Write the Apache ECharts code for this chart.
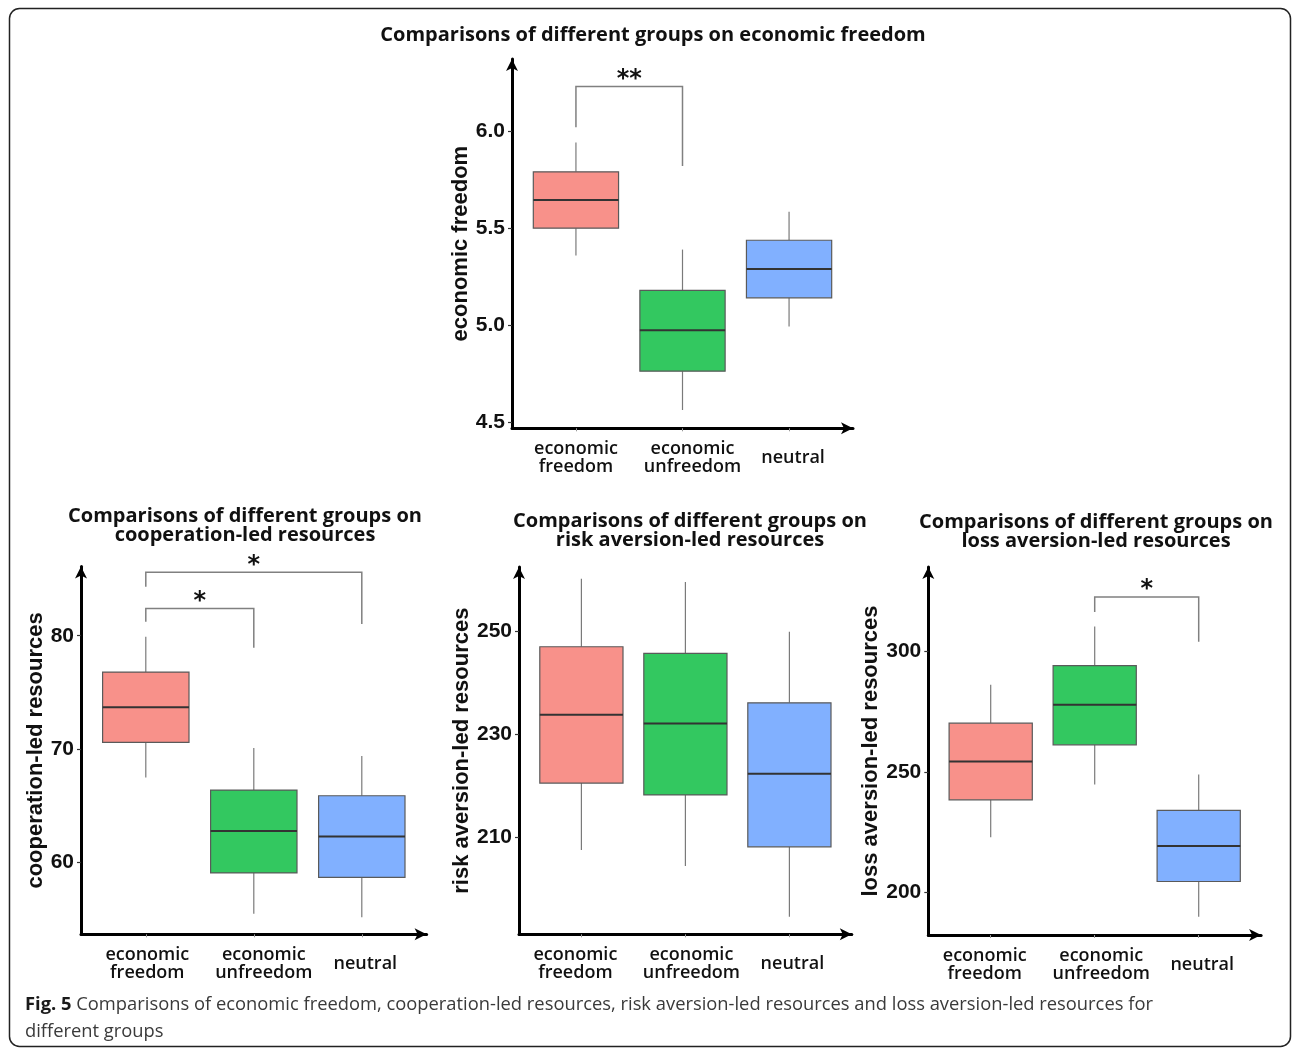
<!DOCTYPE html>
<html><head><meta charset="utf-8">
<script src="https://cdn.jsdelivr.net/npm/echarts@6/dist/echarts.min.js"></script>
<style>html,body{margin:0;padding:0;background:#fff}#c{width:1292px;height:1048px}</style>
</head><body><div id="c"></div><script>
// ---------- data ----------
const groups = ['economic\nfreedom', 'economic\nunfreedom', 'neutral'];
const groupPos = [1, 2, 3];
// each row: [min, Q1, median, Q3, max]
const econFreedom = [[5.36, 5.50, 5.645, 5.79, 5.94], [4.565, 4.765, 4.975, 5.18, 5.39], [4.995, 5.142, 5.29, 5.438, 5.585]];
const cooperation = [[67.5, 70.6, 73.7, 76.8, 79.9], [55.5, 59.1, 62.8, 66.4, 70.1], [55.2, 58.7, 62.3, 65.9, 69.4]];
const riskAversion = [[207.5, 220.5, 233.8, 247.0, 260.2], [204.4, 218.2, 232.1, 245.7, 259.6], [194.5, 208.1, 222.3, 236.1, 249.9]];
const lossAversion = [[223.0, 238.5, 254.4, 270.3, 286.2], [244.9, 261.3, 277.9, 294.2, 310.4], [190.0, 204.6, 219.3, 234.1, 249.0]];
const econTicks = [4.5, 5.0, 5.5, 6.0];
const coopTicks = [60, 70, 80];
const riskTicks = [210, 230, 250];
const lossTicks = [200, 250, 300];
// significance brackets: [groupA, groupB, bracketTop, leftLegEnd, rightLegEnd]
const econSig = [[1, 2, 6.228, 6.019, 5.82]];
const econSigText = ['**'];
const coopSig = [[1, 3, 85.59, 84.32, 81.03], [1, 2, 82.41, 81.23, 78.94]];
const coopSigText = ['*', '*'];
const lossSig = [[2, 3, 322.6, 316.4, 304.1]];
const lossSigText = ['*'];

const fills = ['#F8918A', '#33C860', '#81B0FF'];
const TITLE_FONT = '"Open Sans", "Noto Sans", sans-serif';

function boxRender(params, api) {
  const x = api.value(0);
  const w = api.size([1, 0])[0] * 0.8;
  const p = i => api.coord([x, api.value(i)]);
  const pMin = p(1), pQ1 = p(2), pMed = p(3), pQ3 = p(4), pMax = p(5);
  const cx = pMed[0];
  return {
    type: 'group', children: [
      { type: 'line', shape: { x1: cx, y1: pMax[1], x2: cx, y2: pQ3[1] }, style: { stroke: '#7a7a7a', lineWidth: 1.2 } },
      { type: 'line', shape: { x1: cx, y1: pQ1[1], x2: cx, y2: pMin[1] }, style: { stroke: '#7a7a7a', lineWidth: 1.2 } },
      { type: 'rect', shape: { x: cx - w / 2, y: pQ3[1], width: w, height: pQ1[1] - pQ3[1] }, style: { fill: fills[params.dataIndex], stroke: '#5a5a5a', lineWidth: 1.2 } },
      { type: 'line', shape: { x1: cx - w / 2, y1: pMed[1], x2: cx + w / 2, y2: pMed[1] }, style: { stroke: '#333', lineWidth: 2 } }
    ]
  };
}
function sigRender(labels) {
  return function (params, api) {
    const x1 = api.value(0), x2 = api.value(1);
    const t1 = api.coord([x1, api.value(2)]), t2 = api.coord([x2, api.value(2)]);
    const l = api.coord([x1, api.value(3)]), r = api.coord([x2, api.value(4)]);
    return {
      type: 'group', children: [
        { type: 'polyline', shape: { points: [l, t1, t2, r] }, style: { stroke: '#808080', lineWidth: 1.5, fill: 'none' } },
        { type: 'text', style: { text: labels[params.dataIndex], x: (t1[0] + t2[0]) / 2, y: t1[1] - 7, align: 'center', verticalAlign: 'middle', font: 'bold 24px "DejaVu Sans"', fill: '#111' } }
      ]
    };
  };
}
const lblBase = { fontFamily: TITLE_FONT, fontWeight: 600, fontSize: 18, lineHeight: 18, color: '#111' };
// per-chart label paddings [top,right,bottom,left] nudging the ggplot-like label placement
const labelPads = [
  [[0, 0, 0, 0], [0, 0, 0, 20], [0, 0, 0, 8]],
  [[0, 0, 0, 3], [0, 0, 0, 20], [0, 0, 0, 7]],
  [[0, 12, 0, 0], [0, 0, 0, 12], [0, 0, 0, 6]],
  [[0, 12, 0, 0], [0, 0, 0, 13], [0, 0, 0, 7]]
];
function xAxisCfg(gi) {
  const pads = labelPads[gi];
  return {
    type: 'value', gridIndex: gi, min: 0.4, max: 3.6,
    axisLine: { show: true, onZero: false, symbol: ['none', 'arrow'], symbolSize: [9, 12], lineStyle: { color: '#000', width: 3 } },
    axisTick: { show: true, customValues: groupPos, length: 3, lineStyle: { color: '#999', width: 1 } },
    axisLabel: {
      show: true, customValues: groupPos, margin: 29.5, verticalAlign: 'middle',
      formatter: function (v) {
        const i = Math.round(v) - 1;
        const key = ['a', 'b', 'c'][i];
        return groups[i].split('\n').map(s => '{' + key + '|' + s + '}').join('\n');
      },
      rich: {
        a: Object.assign({ padding: pads[0] }, lblBase),
        b: Object.assign({ padding: pads[1] }, lblBase),
        c: Object.assign({ padding: pads[2] }, lblBase)
      }
    },
    splitLine: { show: false }
  };
}
function yAxisCfg(gi, min, max, ticks, name, gap, fmt) {
  return {
    type: 'value', gridIndex: gi, min: min, max: max,
    name: name, nameLocation: 'middle', nameGap: gap, nameRotate: 90,
    nameTextStyle: { fontFamily: '"Liberation Sans", Arial, sans-serif', fontWeight: 'bold', fontSize: 22, color: '#111' },
    axisLine: { show: true, onZero: false, symbol: ['none', 'arrow'], symbolSize: [9, 12], lineStyle: { color: '#000', width: 3 } },
    axisTick: { show: true, customValues: ticks, length: 4, lineStyle: { color: '#333', width: 1.2 } },
    axisLabel: { show: true, customValues: ticks, formatter: fmt, margin: 7, fontFamily: '"Liberation Sans", Arial, sans-serif', fontWeight: 'bold', fontSize: 21, color: '#111' },
    splitLine: { show: false }
  };
}
const toRows = arr => arr.map((r, i) => [groupPos[i]].concat(r));
const boxSeries = (gi, arr) => ({ type: 'custom', xAxisIndex: gi, yAxisIndex: gi, renderItem: boxRender, encode: { x: 0, y: [1, 2, 3, 4, 5] }, data: toRows(arr), clip: false, silent: true });
const sigSeries = (gi, arr, txt) => ({ type: 'custom', xAxisIndex: gi, yAxisIndex: gi, renderItem: sigRender(txt), encode: { x: [0, 1], y: [2, 3, 4] }, data: arr, clip: false, silent: true });

const chart = echarts.init(document.getElementById('c'), null, { renderer: 'canvas' });
chart.setOption({
  animation: false,
  backgroundColor: '#fff',
  grid: [
    { left: 512, top: 59, width: 341, height: 369.3 },
    { left: 81, top: 566.5, width: 345.6, height: 367.8 },
    { left: 519, top: 567, width: 332.8, height: 367.3 },
    { left: 928.3, top: 567, width: 332.8, height: 368 }
  ],
  xAxis: [xAxisCfg(0), xAxisCfg(1), xAxisCfg(2), xAxisCfg(3)],
  yAxis: [
    yAxisCfg(0, 4.471, 6.37, econTicks, 'economic freedom', 36, v => v.toFixed(1)),
    yAxisCfg(1, 53.69, 86.1, coopTicks, 'cooperation-led resources', 32, v => String(v)),
    yAxisCfg(2, 191.1, 262.5, riskTicks, 'risk aversion-led resources', 43, v => String(v)),
    yAxisCfg(3, 182.4, 335.1, lossTicks, 'loss aversion-led resources', 44, v => String(v))
  ],
  series: [
    boxSeries(0, econFreedom), sigSeries(0, econSig, econSigText),
    boxSeries(1, cooperation), sigSeries(1, coopSig, coopSigText),
    boxSeries(2, riskAversion),
    boxSeries(3, lossAversion), sigSeries(3, lossSig, lossSigText)
  ],
  graphic: [
    { type: 'rect', shape: { x: 9.5, y: 8.5, width: 1281, height: 1038, r: 10 }, style: { fill: 'none', stroke: '#222', lineWidth: 1.5 }, silent: true },
    { type: 'text', x: 653, y: 35, style: { text: 'Comparisons of different groups on economic freedom', font: 'bold 20px ' + TITLE_FONT, fill: '#111', align: 'center', verticalAlign: 'middle' } },
    { type: 'text', x: 245, y: 526, style: { text: 'Comparisons of different groups on\ncooperation-led resources', font: 'bold 20px ' + TITLE_FONT, lineHeight: 19, fill: '#111', align: 'center', verticalAlign: 'middle' } },
    { type: 'text', x: 690, y: 530.5, style: { text: 'Comparisons of different groups on\nrisk aversion-led resources', font: 'bold 20px ' + TITLE_FONT, lineHeight: 19, fill: '#111', align: 'center', verticalAlign: 'middle' } },
    { type: 'text', x: 1096, y: 532, style: { text: 'Comparisons of different groups on\nloss aversion-led resources', font: 'bold 20px ' + TITLE_FONT, lineHeight: 19, fill: '#111', align: 'center', verticalAlign: 'middle' } },
    { type: 'text', x: 25, y: 991, style: {
      text: '{b|Fig. 5} Comparisons of economic freedom, cooperation-led resources, risk aversion-led resources and loss aversion-led resources for\ndifferent groups',
      font: '18.35px "Open Sans", sans-serif', fill: '#3a3a3a', lineHeight: 27, align: 'left', verticalAlign: 'top',
      rich: { b: { font: 'bold 18.35px "Open Sans", sans-serif', fill: '#1a1a1a', lineHeight: 27 } }
    } }
  ]
});
</script></body></html>
